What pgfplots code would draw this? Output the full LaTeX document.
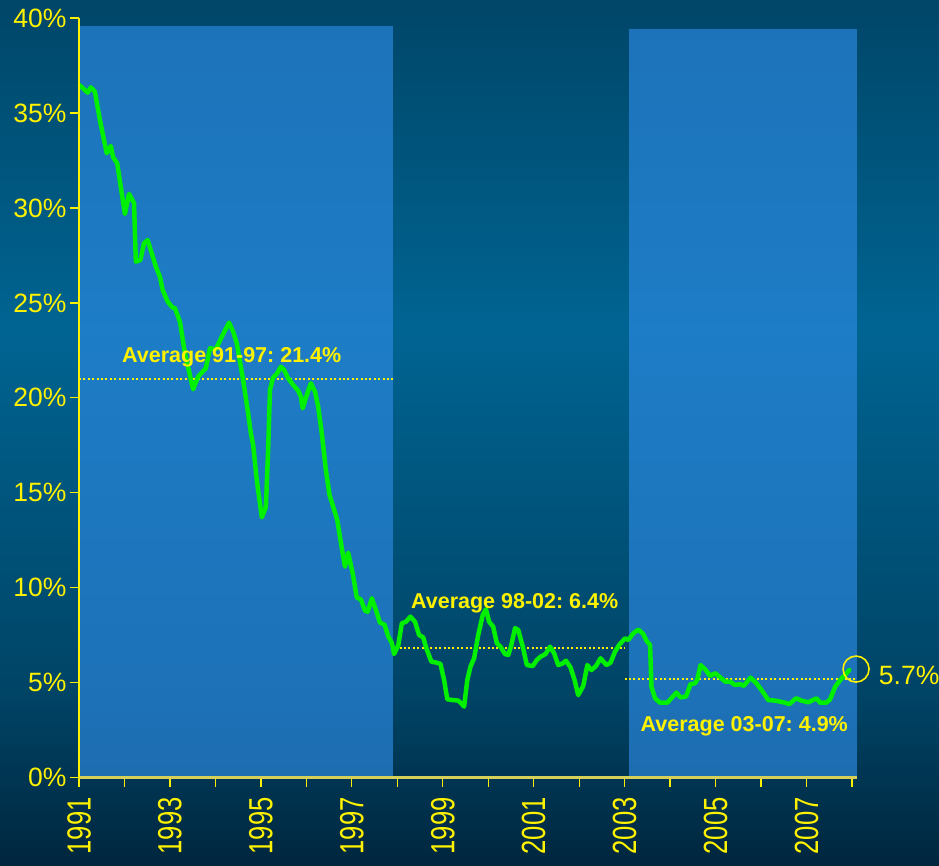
\documentclass[border=0pt]{standalone}
\usepackage{fontspec}
\setmainfont{Liberation Sans}
\usepackage{graphicx}
\usepackage{pgfplots}
\pgfplotsset{compat=1.18}
\usetikzlibrary{backgrounds}
\frenchspacing
\definecolor{ylw}{RGB}{255,242,0}
\definecolor{xln}{RGB}{214,208,90}
\definecolor{grn}{RGB}{0,240,0}
\definecolor{shade}{RGB}{45,138,226}
\pgfdeclareverticalshading{bgshade}{100bp}{%
  color(0bp)=(rgb,255:red,0;green,38;blue,62);
  color(25bp)=(rgb,255:red,0;green,38;blue,62);
  color(35bp)=(rgb,255:red,0;green,68;blue,102);
  color(56bp)=(rgb,255:red,0;green,100;blue,146);
  color(75bp)=(rgb,255:red,0;green,70;blue,104);
  color(100bp)=(rgb,255:red,0;green,70;blue,104)}
\newcommand{\yr}[1]{\scalebox{0.765}[1]{#1}}
\begin{document}
\begin{tikzpicture}
\begin{axis}[
  scale only axis, width=777.5pt, height=759.7pt,
  xmin=1991, xmax=2008.1, ymin=0, ymax=40,
  axis x line=bottom, axis y line=left,
  x axis line style={-, color=xln, line width=2.5pt},
  y axis line style={-, color=ylw, line width=1.3pt},
  xtick={1991,1993,...,2007},
  xticklabels={\yr{1991},\yr{1993},\yr{1995},\yr{1997},\yr{1999},\yr{2001},\yr{2003},\yr{2005},\yr{2007}},
  minor xtick={1992,1994,...,2008},
  ytick={0,5,...,40},
  yticklabels={0\%,5\%,10\%,15\%,20\%,25\%,30\%,35\%,40\%},
  tick align=outside, major tick length=9pt, minor tick length=9pt,
  tick style={ylw, line width=1.3pt},
  yticklabel style={font=\fontsize{26.5}{30}\selectfont, text=ylw, anchor=east},
  xticklabel style={font=\fontsize{33.5}{36}\selectfont, text=ylw, rotate=90, anchor=east},
  xticklabel shift=7pt,
  /pgf/number format/assume math mode=true,
  axis on top, clip=false,
]
% shaded periods
\addplot[draw=none, fill=shade, fill opacity=0.66]
  coordinates {(1991,0) (1991,39.6) (1997.9,39.6) (1997.9,0)} -- cycle;
\addplot[draw=none, fill=shade, fill opacity=0.66]
  coordinates {(2003.1,0) (2003.1,39.4) (2008.1,39.4) (2008.1,0)} -- cycle;
% averages
\addplot[ylw, line width=2pt, dash pattern=on 2pt off 2.4pt] coordinates {(1991,21.0) (1997.95,21.0)};
\addplot[ylw, line width=2pt, dash pattern=on 2pt off 2.4pt] coordinates {(1998.05,6.85) (2003.0,6.85)};
\addplot[ylw, line width=2pt, dash pattern=on 2pt off 2.4pt] coordinates {(2003.0,5.18) (2008.1,5.18)};
% series
\addplot[grn, line width=4.5pt, line join=round, line cap=round] coordinates {
(1991.02,36.45) (1991.19,36.07) (1991.26,36.35) (1991.35,36.12) (1991.46,34.63)
(1991.61,32.88) (1991.70,33.26) (1991.75,32.67) (1991.84,32.35) (1992.01,29.68)
(1992.10,30.74) (1992.21,30.25) (1992.25,27.17) (1992.35,27.26) (1992.43,28.14)
(1992.51,28.31) (1992.69,26.91) (1992.78,26.38) (1992.84,25.68) (1992.95,25.07)
(1993.05,24.77) (1993.11,24.72) (1993.22,24.01) (1993.33,22.35) (1993.51,20.45)
(1993.62,21.12) (1993.79,21.56) (1993.88,22.61) (1994.01,22.56) (1994.14,23.22)
(1994.30,23.96) (1994.39,23.49) (1994.47,22.88) (1994.61,20.94) (1994.72,19.19)
(1994.78,18.14) (1994.83,17.52) (1994.91,15.68) (1995.02,13.71) (1995.11,14.24)
(1995.16,17.26) (1995.20,20.42) (1995.27,21.08) (1995.35,21.26) (1995.44,21.64)
(1995.51,21.47) (1995.60,21.03) (1995.71,20.68) (1995.82,20.38) (1995.88,20.06)
(1995.92,19.45) (1996.01,20.15) (1996.10,20.77) (1996.19,20.33) (1996.26,19.54)
(1996.34,18.14) (1996.43,16.20) (1996.51,14.89) (1996.59,14.27) (1996.68,13.57)
(1996.78,12.08) (1996.85,11.11) (1996.92,11.85) (1997.02,10.76) (1997.11,9.48)
(1997.20,9.39) (1997.29,8.79) (1997.35,8.74) (1997.44,9.45) (1997.53,8.83)
(1997.62,8.16) (1997.72,8.06) (1997.80,7.45) (1997.88,7.10) (1997.93,6.51)
(1998.02,6.95) (1998.10,8.13) (1998.19,8.21) (1998.29,8.48) (1998.39,8.21)
(1998.48,7.51) (1998.57,7.39) (1998.64,6.81) (1998.75,6.11) (1998.86,6.06)
(1998.95,5.99) (1999.03,5.14) (1999.10,4.13) (1999.22,4.09) (1999.34,4.06)
(1999.42,3.88) (1999.47,3.74) (1999.54,5.14) (1999.61,5.85) (1999.69,6.29)
(1999.78,7.51) (1999.88,8.57) (1999.95,8.87) (2000.02,8.21) (2000.11,7.95)
(2000.19,7.08) (2000.27,6.90) (2000.37,6.51) (2000.44,6.46) (2000.50,6.90)
(2000.59,7.87) (2000.66,7.78) (2000.76,6.90) (2000.85,5.93) (2000.98,5.88)
(2001.07,6.20) (2001.15,6.37) (2001.26,6.51) (2001.36,6.90) (2001.45,6.55)
(2001.54,5.93) (2001.64,6.02) (2001.71,6.16) (2001.81,5.81) (2001.90,5.14)
(2001.98,4.35) (2002.09,4.83) (2002.18,5.93) (2002.27,5.67) (2002.37,5.88)
(2002.47,6.29) (2002.60,5.93) (2002.69,6.06) (2002.79,6.64) (2002.88,6.99)
(2003.01,7.34) (2003.08,7.25) (2003.19,7.60) (2003.30,7.80) (2003.41,7.57)
(2003.48,7.21) (2003.56,6.99) (2003.59,4.79) (2003.67,4.18) (2003.78,3.95)
(2003.94,3.95) (2004.06,4.27) (2004.14,4.48) (2004.23,4.23) (2004.35,4.27)
(2004.45,4.93) (2004.55,4.97) (2004.60,5.18) (2004.67,5.93) (2004.77,5.71)
(2004.88,5.36) (2004.99,5.50) (2005.10,5.29) (2005.21,5.06) (2005.32,5.06)
(2005.43,4.88) (2005.54,4.93) (2005.62,4.83) (2005.77,5.27) (2005.90,4.97)
(2006.01,4.62) (2006.16,4.09) (2006.31,4.06) (2006.43,4.00) (2006.53,3.95)
(2006.62,3.87) (2006.77,4.18) (2006.89,4.06) (2007.04,3.97) (2007.22,4.18)
(2007.30,3.95) (2007.44,3.95) (2007.52,4.13) (2007.63,4.79) (2007.74,5.14)
(2007.85,5.41) (2007.94,5.67)
};
% latest value marker
\addplot[only marks, mark=o, mark size=13pt, ylw, mark options={line width=1.6pt}]
  coordinates {(2008.09,5.72)};
% annotations
\node[anchor=base west, inner sep=0pt, text=ylw, font=\fontsize{21.5}{25}\selectfont\bfseries]
  at (axis cs:1991.946,21.85) {Average 91-97: 21.4\%};
\node[anchor=base west, inner sep=0pt, text=ylw, font=\fontsize{21.5}{25}\selectfont\bfseries]
  at (axis cs:1998.30,8.92) {Average 98-02: 6.4\%};
\node[anchor=base west, inner sep=0pt, text=ylw, font=\fontsize{21.5}{25}\selectfont\bfseries]
  at (axis cs:2003.35,2.42) {Average 03-07: 4.9\%};
\node[anchor=base west, inner sep=0pt, text=ylw, font=\fontsize{26.5}{30}\selectfont]
  at (axis cs:2008.59,4.93) {5.7\%};
\end{axis}
\pgfresetboundingbox
\useasboundingbox (-79pt,-87.3pt) rectangle (860pt,777.7pt);
\begin{scope}[on background layer]
\shade[shading=bgshade] (-79pt,-87.3pt) rectangle (860pt,777.7pt);
\end{scope}
\end{tikzpicture}
\end{document}
